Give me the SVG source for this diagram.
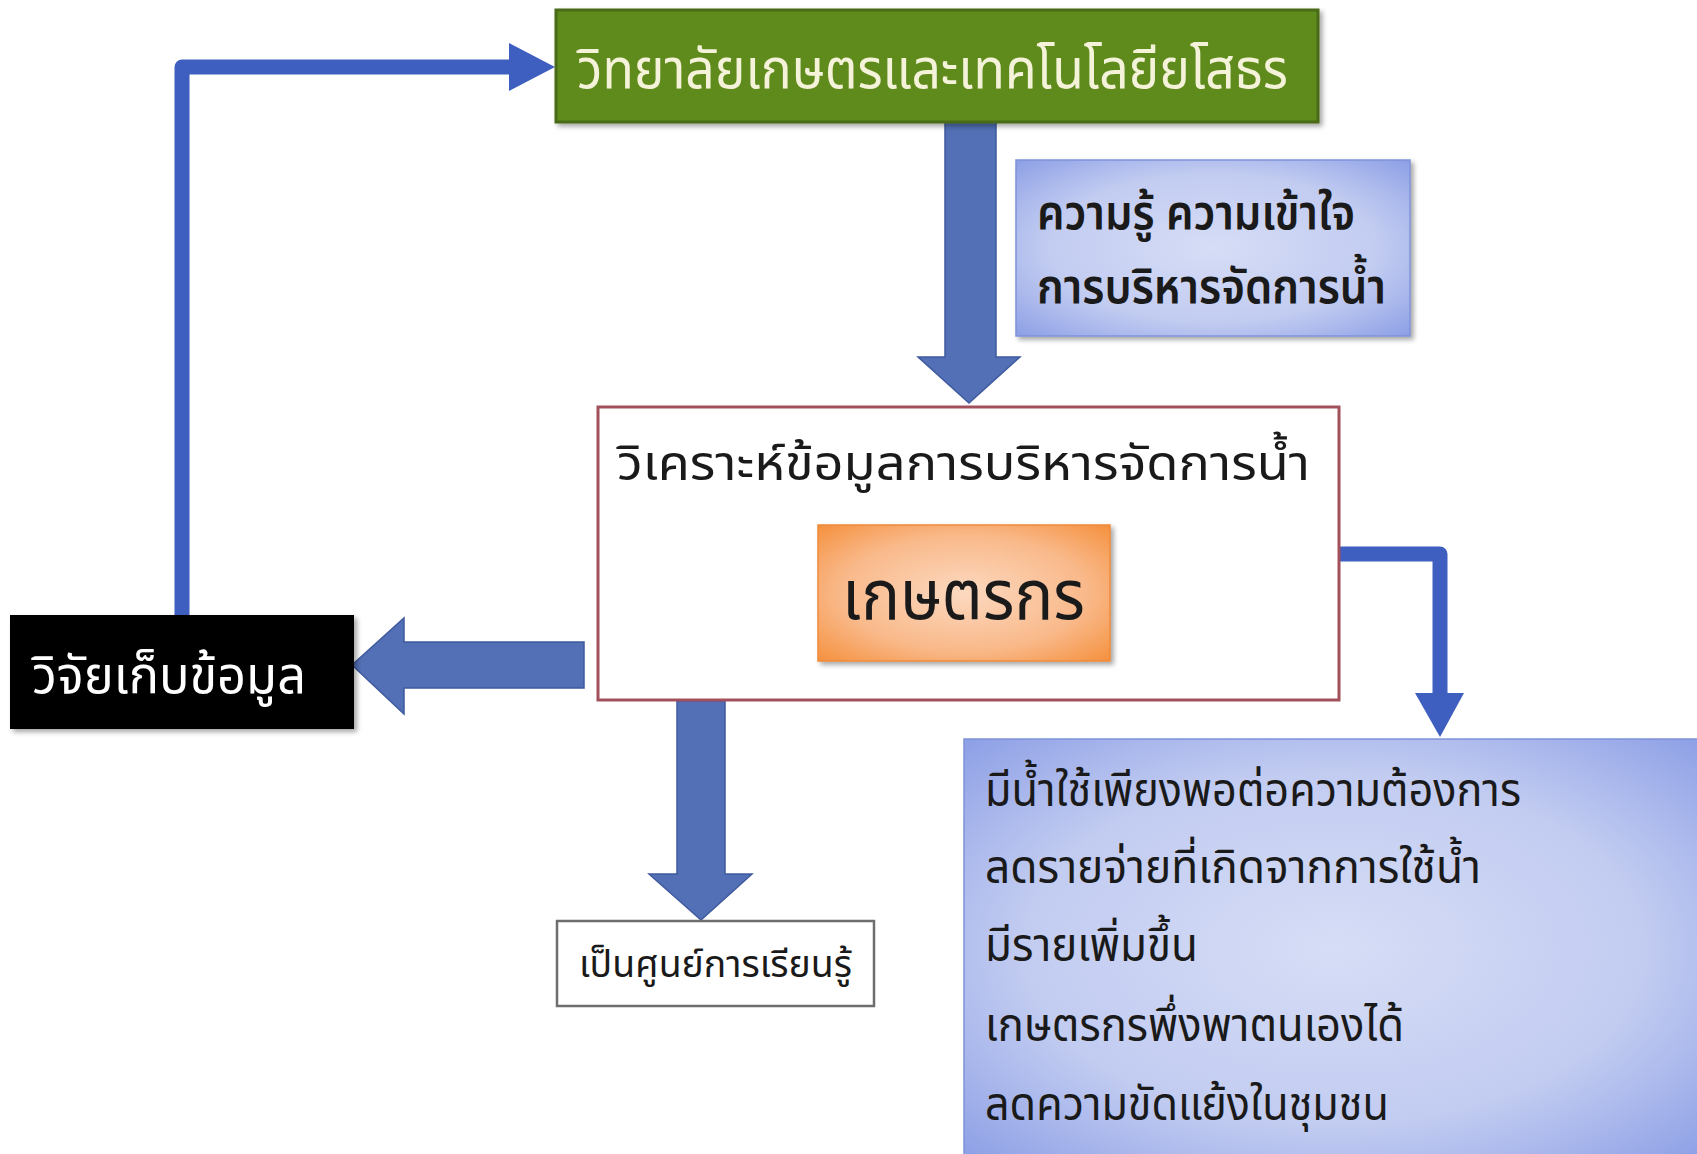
<svg xmlns="http://www.w3.org/2000/svg" width="1697" height="1154" viewBox="0 0 1697 1154">
<style>
.th{font-family:"Noto Sans Thai","Noto Sans","DejaVu Sans",sans-serif;}
.dk{fill:#1a1a1a;}
.fat{fill:#5370B6;stroke:#3F5A9E;stroke-width:1.5;}
.ln{fill:none;stroke:#3F5FC0;stroke-width:15;stroke-linejoin:round;}
.hd{fill:#3F5FC0;}
</style>
<defs>
<radialGradient id="gBlue" cx="50%" cy="50%" r="70%">
<stop offset="0" stop-color="#D6DDF6"/>
<stop offset="0.6" stop-color="#C2CCF1"/>
<stop offset="1" stop-color="#8EA0E6"/>
</radialGradient>
<radialGradient id="gOrange" cx="50%" cy="50%" r="70%">
<stop offset="0" stop-color="#FCD9C0"/>
<stop offset="0.6" stop-color="#F9B98A"/>
<stop offset="1" stop-color="#F5913F"/>
</radialGradient>
<filter id="sh" x="-10%" y="-10%" width="125%" height="125%">
<feDropShadow dx="3" dy="3" stdDeviation="2.5" flood-color="#000" flood-opacity="0.35"/>
</filter>
</defs>
<rect width="1697" height="1154" fill="#FFFFFF"/>

<g id="connectors">
<path class="ln" d="M182 615 V67 H512"/>
<polygon class="hd" points="509,43 555,67 509,91"/>
<path class="ln" d="M1340 554 H1440 V695"/>
<polygon class="hd" points="1415,693 1464,693 1440,737"/>
<polygon class="fat" points="945,122 996,122 996,357 1020,357 969,403 918,357 945,357"/>
<polygon class="fat" points="584,642 584,688 404,688 404,714 352,665 404,618 404,642"/>
<polygon class="fat" points="677,701 725,701 725,874 752,874 701,920 649,874 677,874"/>
</g>

<g id="college">
<rect x="556" y="10" width="762" height="112" fill="#5E8A1F" stroke="#4A6B17" stroke-width="3" filter="url(#sh)"/>
<text class="th" x="577" y="88" font-size="56" fill="#F4F2D8" textLength="711" lengthAdjust="spacingAndGlyphs">วิทยาลัยเกษตรและเทคโนโลยียโสธร</text>
</g>

<g id="knowledge">
<rect x="1016" y="160" width="394" height="176" fill="url(#gBlue)" stroke="#7F93D8" stroke-width="1.5" filter="url(#sh)"/>
<text class="th dk" x="1037" y="229" font-size="48" font-weight="600" textLength="318" lengthAdjust="spacingAndGlyphs">ความรู้ ความเข้าใจ</text>
<text class="th dk" x="1037" y="303" font-size="48" font-weight="600" textLength="349" lengthAdjust="spacingAndGlyphs">การบริหารจัดการน้ำ</text>
</g>

<g id="analysis">
<rect x="598" y="407" width="741" height="293" fill="#FFFFFF" stroke="#A2505C" stroke-width="3"/>
<text class="th dk" x="617" y="480" font-size="48" textLength="693" lengthAdjust="spacingAndGlyphs">วิเคราะห์ข้อมูลการบริหารจัดการน้ำ</text>
</g>

<g id="farmer">
<rect x="818" y="525" width="292" height="136" fill="url(#gOrange)" stroke="#F08A3A" stroke-width="1.5" filter="url(#sh)"/>
<text class="th dk" x="842" y="619" font-size="70" textLength="243" lengthAdjust="spacingAndGlyphs">เกษตรกร</text>
</g>

<g id="research">
<rect x="10" y="615" width="344" height="114" fill="#000000" filter="url(#sh)"/>
<text class="th" x="32" y="693" font-size="52" fill="#FFFFFF" textLength="274" lengthAdjust="spacingAndGlyphs">วิจัยเก็บข้อมูล</text>
</g>

<g id="learning">
<rect x="557" y="921" width="317" height="85" fill="#FFFFFF" stroke="#6E6E6E" stroke-width="2.5"/>
<text class="th dk" x="579" y="977" font-size="38" textLength="273" lengthAdjust="spacingAndGlyphs">เป็นศูนย์การเรียนรู้</text>
</g>

<g id="outcomes">
<rect x="964" y="739" width="740" height="420" fill="url(#gBlue)" stroke="#7F93D8" stroke-width="1.5"/>
<text class="th dk" x="985" y="806" font-size="46" textLength="536" lengthAdjust="spacingAndGlyphs">มีน้ำใช้เพียงพอต่อความต้องการ</text>
<text class="th dk" x="985" y="883" font-size="46" textLength="496" lengthAdjust="spacingAndGlyphs">ลดรายจ่ายที่เกิดจากการใช้น้ำ</text>
<text class="th dk" x="985" y="961" font-size="46" textLength="213" lengthAdjust="spacingAndGlyphs">มีรายเพิ่มขึ้น</text>
<text class="th dk" x="985" y="1041" font-size="46" textLength="419" lengthAdjust="spacingAndGlyphs">เกษตรกรพึ่งพาตนเองได้</text>
<text class="th dk" x="985" y="1120" font-size="46" textLength="404" lengthAdjust="spacingAndGlyphs">ลดความขัดแย้งในชุมชน</text>
</g>
</svg>
